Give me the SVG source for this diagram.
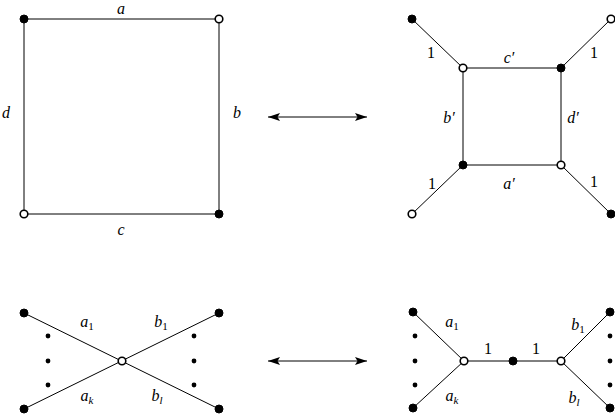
<svg xmlns="http://www.w3.org/2000/svg" width="615" height="415" viewBox="0 0 615 415">
<style>
.e{stroke:#000;stroke-width:1;fill:none}
.b{fill:#000;stroke:#000;stroke-width:1}
.w{fill:#fff;stroke:#000;stroke-width:1.6}
.d{fill:#000}
text{font-family:"Liberation Serif","DejaVu Serif",serif;font-size:16px;fill:#000;text-anchor:middle}
.i{font-style:italic}
.s{font-size:11px}
</style>
<defs>
<marker id="ah" viewBox="0 0 12 8" refX="12" refY="4" markerWidth="12" markerHeight="8" markerUnits="userSpaceOnUse" orient="auto-start-reverse">
<path d="M0,0 L12,4 L0,8 L2.5,4 Z" fill="#000"/>
</marker>
</defs>
<g id="connectors">
<path class="e" d="M24,19 H219 V214 H24 Z"/>
<path class="e" d="M463,68 H561 V165 H463 Z M412,19 L463,68 M611,19 L561,68 M412,214 L463,165 M611,214 L561,165"/>
<path class="e" d="M24,313 L219,409 M219,313 L24,409"/>
<path class="e" d="M413,312 L464,361 M413,408 L464,361 M464,361 H561 M610,312 L561,361 M610,408 L561,361"/>
<line class="e" x1="268" y1="117" x2="367" y2="117" marker-start="url(#ah)" marker-end="url(#ah)"/>
<line class="e" x1="268" y1="361" x2="367" y2="361" marker-start="url(#ah)" marker-end="url(#ah)"/>
</g>
<g id="square1">
<circle class="b" cx="24" cy="19" r="4"/>
<circle class="w" cx="219" cy="19" r="3.8"/>
<circle class="w" cx="24" cy="214" r="3.8"/>
<circle class="b" cx="219" cy="214" r="4"/>
<text class="i" x="121" y="14">a</text>
<text class="i" x="6" y="118">d</text>
<text class="i" x="237" y="118">b</text>
<text class="i" x="121" y="235">c</text>
</g>
<g id="square2">
<circle class="b" cx="412" cy="19" r="4"/>
<circle class="w" cx="611" cy="19" r="3.8"/>
<circle class="w" cx="412" cy="214" r="3.8"/>
<circle class="b" cx="611" cy="214" r="4"/>
<circle class="w" cx="463" cy="68" r="3.8"/>
<circle class="b" cx="561" cy="68" r="4"/>
<circle class="b" cx="463" cy="165" r="4"/>
<circle class="w" cx="561" cy="165" r="3.8"/>
<text x="431" y="58">1</text>
<text x="594" y="58">1</text>
<text x="432" y="189">1</text>
<text x="594" y="187">1</text>
<text class="i" x="509" y="63">c′</text>
<text class="i" x="449" y="123">b′</text>
<text class="i" x="573" y="123">d′</text>
<text class="i" x="509" y="189">a′</text>
</g>
<g id="star1">
<circle class="b" cx="24" cy="313" r="4"/>
<circle class="b" cx="219" cy="313" r="4"/>
<circle class="b" cx="24" cy="409" r="4"/>
<circle class="b" cx="219" cy="409" r="4"/>
<circle class="w" cx="122" cy="361" r="3.8"/>
<circle class="d" cx="48" cy="336" r="2.4"/>
<circle class="d" cx="48" cy="361" r="2.4"/>
<circle class="d" cx="48" cy="385" r="2.4"/>
<circle class="d" cx="194" cy="336" r="2.4"/>
<circle class="d" cx="194" cy="361" r="2.4"/>
<circle class="d" cx="194" cy="385" r="2.4"/>
<text class="i" x="87" y="327">a<tspan class="s" font-style="normal" dy="3">1</tspan></text>
<text class="i" x="161" y="327">b<tspan class="s" font-style="normal" dy="3">1</tspan></text>
<text class="i" x="87" y="401">a<tspan class="s" dy="3">k</tspan></text>
<text class="i" x="157" y="401">b<tspan class="s" dy="3">l</tspan></text>
</g>
<g id="star2">
<circle class="b" cx="413" cy="312" r="4"/>
<circle class="b" cx="413" cy="408" r="4"/>
<circle class="b" cx="610" cy="312" r="4"/>
<circle class="b" cx="610" cy="408" r="4"/>
<circle class="w" cx="464" cy="361" r="3.8"/>
<circle class="b" cx="513" cy="361" r="4"/>
<circle class="w" cx="561" cy="361" r="3.8"/>
<circle class="d" cx="415" cy="336" r="2.4"/>
<circle class="d" cx="415" cy="361" r="2.4"/>
<circle class="d" cx="415" cy="385" r="2.4"/>
<circle class="d" cx="610" cy="336" r="2.4"/>
<circle class="d" cx="610" cy="361" r="2.4"/>
<circle class="d" cx="610" cy="385" r="2.4"/>
<text x="488" y="354">1</text>
<text x="536" y="354">1</text>
<text class="i" x="452" y="327">a<tspan class="s" font-style="normal" dy="3">1</tspan></text>
<text class="i" x="578" y="330">b<tspan class="s" font-style="normal" dy="3">1</tspan></text>
<text class="i" x="452" y="401">a<tspan class="s" dy="3">k</tspan></text>
<text class="i" x="574" y="403">b<tspan class="s" dy="3">l</tspan></text>
</g>
</svg>
